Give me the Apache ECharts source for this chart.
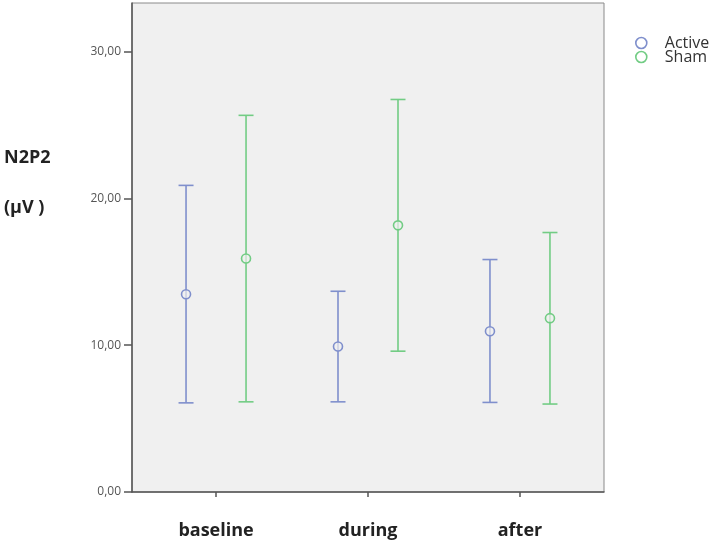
<!DOCTYPE html>
<html><head><meta charset="utf-8">
<script src="https://cdn.jsdelivr.net/npm/echarts@6/dist/echarts.min.js"></script>
<style>html,body{margin:0;padding:0;background:#fff}#c{width:716px;height:542px}</style>
</head><body><div id="c"></div>
<script>
const categories = ['baseline', 'during', 'after'];
const seriesNames = ['Active', 'Sham'];
const activeMean = [13.47, 9.91, 10.95];
const activeLow  = [6.07, 6.14, 6.10];
const activeHigh = [20.88, 13.67, 15.83];
const shamMean = [15.9, 18.16, 11.84];
const shamLow  = [6.14, 9.59, 5.99];
const shamHigh = [25.65, 26.73, 17.67];
const yTicks = [0, 10, 20, 30];

const colors = ['#7f8fcc', '#72cc84'];
const offsets = [-30, 30];

function makeSeries(name, mean, low, high, color, off) {
  const data = categories.map((c, i) => [i, mean[i], low[i], high[i]]);
  return {
    type: 'custom', name: name,
    itemStyle: { color: color },
    data: data,
    encode: { x: 0, y: [1, 2, 3] },
    renderItem: function (params, api) {
      const i = api.value(0);
      const pm = api.coord([i, api.value(1)]);
      const pl = api.coord([i, api.value(2)]);
      const ph = api.coord([i, api.value(3)]);
      const x = pm[0] + off;
      const st = { stroke: color, lineWidth: 1.6, fill: null };
      const r = 4.5;
      return {
        type: 'group',
        children: [
          { type: 'line', shape: { x1: x, y1: ph[1], x2: x, y2: pm[1] - r }, style: st },
          { type: 'line', shape: { x1: x, y1: pm[1] + r, x2: x, y2: pl[1] }, style: st },
          { type: 'line', shape: { x1: x - 7.5, y1: ph[1], x2: x + 7.5, y2: ph[1] }, style: st },
          { type: 'line', shape: { x1: x - 7.5, y1: pl[1], x2: x + 7.5, y2: pl[1] }, style: st },
          { type: 'circle', shape: { cx: x, cy: pm[1], r: r }, style: { stroke: color, lineWidth: 1.6, fill: 'rgba(0,0,0,0)' } },
          { type: 'line', shape: { x1: x, y1: pm[1] - r, x2: x, y2: pm[1] + r }, style: { stroke: color, lineWidth: 1, opacity: 0.5 } }
        ]
      };
    }
  };
}

const chart = echarts.init(document.getElementById('c'), null, { renderer: 'canvas' });
chart.setOption({
  animation: false,
  backgroundColor: '#ffffff',
  grid: { left: 132, top: 3, right: 112, bottom: 50, show: true, backgroundColor: '#f0f0f0', borderColor: '#8a8a8a', borderWidth: 1 },
  xAxis: {
    type: 'value', min: -0.553, max: 2.553,
    splitLine: { show: false },
    axisLine: { show: true, onZero: false, lineStyle: { color: '#555', width: 1.5 } },
    axisTick: { show: true, length: 5, lineStyle: { color: '#555', width: 1.5 }, customValues: [0, 1, 2] },
    axisLabel: {
      customValues: [0, 1, 2], margin: 30,
      formatter: v => categories[Math.round(v)],
      fontFamily: 'Open Sans', fontWeight: 'bold', fontSize: 18, color: '#222'
    }
  },
  yAxis: {
    type: 'value', min: 0, max: 33.3,
    splitLine: { show: false },
    axisLine: { show: true, onZero: false, lineStyle: { color: '#555', width: 1.5 } },
    axisTick: { show: true, length: 8, lineStyle: { color: '#555', width: 1.5 }, customValues: yTicks },
    axisLabel: {
      customValues: yTicks, margin: 11,
      formatter: v => v.toFixed(2).replace('.', ','),
      fontFamily: 'Open Sans', fontSize: 12, color: '#555'
    }
  },
  legend: {
    orient: 'vertical', left: 630, top: 30, itemGap: -2, itemWidth: 37, itemHeight: 11,
    textStyle: { fontFamily: 'Open Sans', fontSize: 16, color: '#333' },
    data: seriesNames.map((n, k) => ({ name: n, icon: 'circle', itemStyle: { color: 'rgba(0,0,0,0)', borderColor: colors[k], borderWidth: 1.6 } }))
  },
  graphic: [
    { type: 'text', left: 4, top: 149, style: { text: 'N2P2', font: 'bold 18px "Open Sans"', fill: '#222' } },
    { type: 'text', left: 4, top: 199, style: { text: '(µV )', font: 'bold 18px "Open Sans"', fill: '#222' } }
  ],
  series: [
    makeSeries(seriesNames[0], activeMean, activeLow, activeHigh, colors[0], offsets[0]),
    makeSeries(seriesNames[1], shamMean, shamLow, shamHigh, colors[1], offsets[1])
  ]
});
</script></body></html>
